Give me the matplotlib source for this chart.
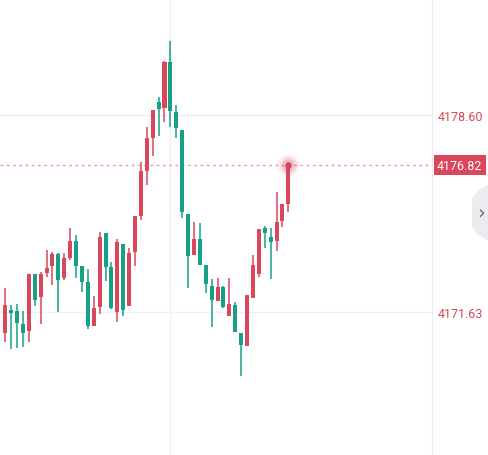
import matplotlib
matplotlib.use("Agg")
import matplotlib.pyplot as plt
from matplotlib.patches import Polygon
import numpy as np

# OHLC values (red = rising, green = falling)
opens = [4170.89, 4171.70, 4171.67, 4171.21, 4170.96, 4172.97, 4172.16, 4173.01, 4173.26, 4173.68,
         4172.83, 4173.54, 4174.14, 4173.26, 4172.69, 4171.13, 4171.81, 4174.43, 4173.22, 4171.63,
         4174.04, 4171.84, 4173.75, 4175.03, 4176.62, 4177.79, 4179.06, 4178.85, 4180.48, 4178.71,
         4178.07, 4175.10, 4173.65, 4174.21, 4173.29, 4172.55, 4172.02, 4172.51, 4171.49, 4171.88,
         4170.89, 4170.43, 4172.13, 4172.97, 4174.60, 4174.28, 4174.14, 4174.85, 4175.45]
highs = [4172.48, 4171.88, 4171.91, 4171.67, 4172.97, 4172.97, 4173.05, 4173.82, 4173.75, 4173.72,
         4173.72, 4174.60, 4174.35, 4173.26, 4173.15, 4172.20, 4174.46, 4174.43, 4173.40, 4174.21,
         4174.04, 4173.89, 4175.03, 4176.94, 4178.18, 4178.78, 4179.24, 4180.51, 4181.22, 4178.95,
         4178.07, 4175.10, 4174.81, 4174.78, 4173.29, 4172.80, 4172.83, 4172.55, 4172.83, 4171.98,
         4170.89, 4172.23, 4173.65, 4174.57, 4174.67, 4174.60, 4175.88, 4175.45, 4176.94]
lows = [4170.57, 4170.32, 4170.36, 4170.39, 4170.57, 4171.84, 4171.21, 4172.87, 4172.59, 4171.63,
        4172.76, 4173.47, 4172.83, 4172.34, 4171.03, 4171.13, 4171.56, 4172.73, 4171.74, 4171.28,
        4171.49, 4171.84, 4173.26, 4174.89, 4176.12, 4177.15, 4177.86, 4178.35, 4178.18, 4177.79,
        4174.96, 4172.48, 4173.65, 4173.29, 4172.30, 4171.10, 4172.02, 4171.77, 4171.49, 4170.92,
        4169.37, 4170.43, 4172.13, 4172.87, 4173.89, 4172.80, 4173.79, 4174.64, 4175.17]
closes = [4171.88, 4171.59, 4171.24, 4170.89, 4172.97, 4172.05, 4172.97, 4173.19, 4173.68, 4172.76,
          4173.54, 4174.14, 4173.26, 4172.69, 4171.13, 4171.77, 4174.28, 4173.22, 4171.77, 4174.11,
          4171.70, 4173.72, 4175.03, 4176.62, 4177.79, 4178.78, 4178.81, 4180.48, 4178.74, 4178.14,
          4175.17, 4173.61, 4174.21, 4173.29, 4172.62, 4172.05, 4172.51, 4171.81, 4171.91, 4170.92,
          4170.46, 4172.23, 4173.29, 4174.57, 4174.43, 4174.11, 4174.81, 4175.45, 4176.82]
price_ticks = [4178.60, 4171.63]
last_price = 4176.82

RED = "#d8475b"
GREEN = "#16a086"

fig = plt.figure(figsize=(4.89, 4.56), dpi=100)
ax = fig.add_axes([0, 0, 432 / 489, 1])

x = np.arange(len(opens))
o = np.array(opens)
c = np.array(closes)
colors = [RED if cc >= oo else GREEN for oo, cc in zip(o, c)]

ax.vlines(x, lows, highs, colors=colors, linewidth=1.1, zorder=3)
bottoms = np.minimum(o, c)
heights = np.maximum(np.abs(c - o), 0.05)
ax.bar(x, heights, bottom=bottoms, width=0.68, color=colors, linewidth=0, zorder=4)

ax.set_xlim(-0.9, 72.37)
ax.set_ylim(4166.57, 4182.70)

# grid
for p in price_ticks:
    ax.axhline(p, color="#f0f0f3", linewidth=1, zorder=1)
ax.axvline(28, color="#f0f0f3", linewidth=1, zorder=1)

# last price line and glowing dot
ax.axhline(last_price, color="#eb9aa5", linewidth=1, linestyle=(0, (2, 2.5)), zorder=2)
for s, a in [(260, 0.08), (150, 0.12), (80, 0.2)]:
    ax.scatter([x[-1]], [last_price], s=s, color=RED, alpha=a, linewidths=0, zorder=5)
ax.scatter([x[-1]], [last_price], s=22, color=RED, linewidths=0, zorder=6)

for side in ("top", "left", "bottom"):
    ax.spines[side].set_visible(False)
ax.spines["right"].set_color("#ececf0")
ax.set_xticks([])
ax.yaxis.tick_right()
ax.set_yticks(price_ticks)
ax.set_yticklabels([f"{p:.2f}" for p in price_ticks], fontfamily="Roboto",
                   fontsize=9, color=RED)
ax.tick_params(axis="y", length=0, pad=4)

# last price tag
ax.text(1.012, last_price, f"{last_price:.2f}", transform=ax.get_yaxis_transform(),
        ha="left", va="center", fontfamily="Roboto", fontsize=9, color="white",
        clip_on=False, zorder=10,
        bbox=dict(boxstyle="square,pad=0.28", facecolor=RED, edgecolor="none"))

# collapse tab at the right edge
tab_px = [(489, 185), (478, 192), (472, 200), (472, 228), (478, 236), (489, 242)]
tab = Polygon(np.array([(px, 456 - py) for px, py in tab_px]) / 100, closed=True,
              facecolor="#ececf0", edgecolor="none", transform=fig.dpi_scale_trans)
fig.patches.append(tab)
fig.text(481 / 489, 1 - 213 / 456, "›", ha="center", va="center", fontsize=14,
         color="#666666")

fig.savefig("out.png", dpi=100)
